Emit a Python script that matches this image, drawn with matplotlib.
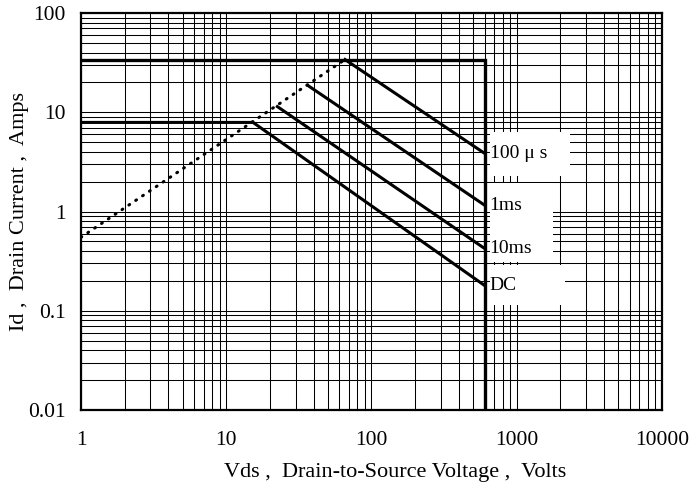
import matplotlib.pyplot as plt
from matplotlib.patches import Rectangle
from matplotlib.ticker import FixedLocator, FixedFormatter, LogLocator, NullFormatter

plt.rcParams['font.family'] = ['Liberation Serif', 'DejaVu Serif']

# ----------------------
# Données
# ----------------------
# limite courant max + tension max (600 V)
limit_v = [1, 600, 600]
limit_i = [34, 34, 0.01]

# limite Rds(on) (pointillés)
rds_v = [1, 65.7]
rds_i = [0.55, 34]

# courbes SOA
soa_v = {
    "100 μ s": [65.7, 600],
    "1ms": [36.7, 600],
    "10ms": [22.5, 600],
    "DC": [1, 15.3, 600],
}
soa_i = {
    "100 μ s": [34, 3.86],
    "1ms": [18.5, 1.16],
    "10ms": [11.4, 0.425],
    "DC": [7.9, 7.9, 0.18],
}

x_ticks = [1, 10, 100, 1000, 10000]
x_tick_labels = ["1", "10", "100", "1000", "10000"]
y_ticks = [0.01, 0.1, 1, 10, 100]
y_tick_labels = ["0.01", "0.1", "1", "10", "100"]

# ----------------------
# Figure
# ----------------------
fig = plt.figure(figsize=(6.91, 4.84), dpi=100)
ax = fig.add_axes([0.1172, 0.1529, 0.8408, 0.8202])
ax.set_xscale('log')
ax.set_yscale('log')
ax.set_xlim(1, 10000)
ax.set_ylim(0.01, 100)

ax.xaxis.set_major_locator(FixedLocator(x_ticks))
ax.xaxis.set_major_formatter(FixedFormatter(x_tick_labels))
ax.yaxis.set_major_locator(FixedLocator(y_ticks))
ax.yaxis.set_major_formatter(FixedFormatter(y_tick_labels))
ax.xaxis.set_minor_locator(LogLocator(base=10, subs=range(2, 10), numticks=20))
ax.yaxis.set_minor_locator(LogLocator(base=10, subs=range(2, 10), numticks=20))
ax.xaxis.set_minor_formatter(NullFormatter())
ax.yaxis.set_minor_formatter(NullFormatter())

ax.grid(True, which='both', color='black', lw=0.75, zorder=1)
ax.set_axisbelow(True)
ax.tick_params(which='both', length=0, labelsize=15.5)
ax.tick_params(axis='x', pad=15)
ax.tick_params(axis='y', pad=11)
for s in ax.spines.values():
    s.set_linewidth(1.6)

# cases blanches pour les étiquettes
for (x0, y0, w, h) in [(0.704, 0.589, 0.138, 0.111),
                       (0.704, 0.373, 0.108, 0.199),
                       (0.704, 0.264, 0.129, 0.101)]:
    ax.add_patch(Rectangle((x0, y0), w, h, transform=ax.transAxes,
                           facecolor='white', edgecolor='none', zorder=2))

ax.plot(limit_v, limit_i, color='black', lw=2.4, zorder=4, solid_joinstyle='miter')
ax.plot(rds_v, rds_i, color='black', lw=2.2, ls=(0, (0.3, 2.4)),
        dash_capstyle='round', zorder=4)
for name in soa_v:
    ax.plot(soa_v[name], soa_i[name], color='black', lw=2.2, zorder=4)
    ax.text(650, soa_i[name][-1], name, fontsize=14, ha='left', va='center', zorder=5)

ax.set_xlabel("Vds ,  Drain-to-Source Voltage ,  Volts", fontsize=16)
ax.set_ylabel("Id ,  Drain Current ,  Amps", fontsize=16)
ax.xaxis.set_label_coords(0.54, -0.134)
ax.yaxis.set_label_coords(-0.09, 0.5)

plt.savefig("out.png", dpi=100)
